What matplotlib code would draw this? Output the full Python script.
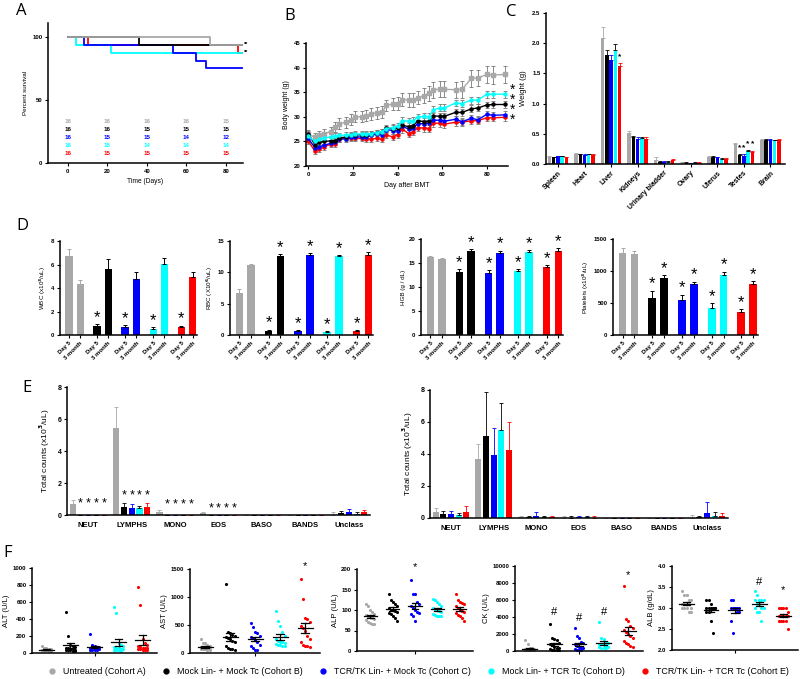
import numpy as np
import matplotlib
matplotlib.use("Agg")
import matplotlib.pyplot as plt
from matplotlib.lines import Line2D

plt.rcParams['font.family'] = ['Liberation Sans', 'DejaVu Sans']
plt.rcParams['font.weight'] = 'bold'

GREY = '#a8a8a8'
BLACK = '#000000'
BLUE = '#0000ff'
CYAN = '#00ffff'
RED = '#ff0000'
COLORS = [GREY, BLACK, BLUE, CYAN, RED]
COHORTS = ["Untreated (Cohort A)", "Mock Lin- + Mock Tc (Cohort B)",
           "TCR/TK Lin- + Mock Tc (Cohort C)", "Mock Lin- + TCR Tc (Cohort D)",
           "TCR/TK Lin- + TCR Tc (Cohort E)"]

# ---- A: survival ----
surv_times = [[0, 72, 88], [0, 36, 88], [0, 8, 53, 65, 70, 88], [0, 4, 22, 88], [0, 10, 86, 88]]
surv_vals = [[100, 93.75, 93.75], [100, 93.75, 93.75], [100, 93.75, 87.5, 81.25, 75, 75],
             [100, 93.75, 87.5, 87.5], [100, 93.75, 87.5, 87.5]]
risk_days = [0, 20, 40, 60, 80]
at_risk = [[16, 16, 16, 16, 15], [16, 16, 15, 15, 15], [16, 15, 15, 14, 12],
           [16, 15, 14, 14, 14], [16, 15, 15, 15, 15]]

# ---- B: body weight ----
bw_days = [0, 3, 5, 7, 10, 12, 14, 17, 19, 21, 24, 26, 28, 31, 33, 35, 38, 40, 42, 45,
           47, 49, 52, 54, 56, 59, 61, 66, 69, 73, 76, 80, 83, 88]
bw_grey = [26.5, 25.8, 26.2, 26.5, 27.0, 27.9, 28.6, 28.9, 29.4, 30.0, 30.0, 30.2, 30.6, 30.8,
           30.9, 32.3, 32.6, 32.7, 33.5, 33.4, 33.4, 33.9, 34.3, 34.8, 35.5, 35.6, 35.6, 35.5,
           35.6, 37.8, 37.9, 38.6, 38.5, 38.6]
bw_black = [26.6, 24.3, 24.8, 25.0, 25.1, 25.1, 25.7, 25.9, 26.2, 26.4, 26.3, 26.4, 26.6, 26.7,
            26.9, 27.7, 27.6, 27.7, 28.3, 28.0, 28.2, 29.2, 29.0, 29.1, 30.2, 30.1, 30.1, 30.9,
            30.9, 31.6, 31.8, 32.4, 32.5, 32.5]
bw_blue = [25.6, 23.7, 23.9, 24.2, 24.6, 24.9, 25.5, 25.5, 25.8, 25.9, 25.9, 25.9, 26.2, 26.5,
           26.4, 27.4, 27.2, 27.2, 28.1, 27.5, 27.7, 28.6, 28.6, 28.7, 29.3, 29.3, 29.1, 29.5,
           29.0, 29.7, 29.4, 30.5, 30.3, 30.4]
bw_cyan = [26.0, 25.0, 25.4, 25.7, 25.9, 26.1, 26.2, 26.3, 26.4, 26.5, 26.5, 26.5, 26.6, 26.8,
           27.0, 27.6, 27.8, 28.1, 29.2, 29.1, 29.2, 29.9, 30.1, 30.0, 31.4, 31.8, 31.8, 32.8,
           32.7, 33.4, 33.4, 34.6, 34.6, 34.6]
bw_red = [25.1, 23.0, 23.4, 23.9, 24.4, 24.5, 25.5, 25.6, 25.6, 25.6, 25.6, 25.5, 25.5, 25.6,
          25.4, 26.3, 25.9, 26.4, 27.5, 26.6, 26.9, 27.8, 27.7, 27.6, 28.7, 28.7, 28.5, 28.9,
          28.9, 29.2, 29.2, 29.8, 29.8, 29.9]
bw_err_grey = [0.8, 0.9, 0.9, 1.0, 1.0, 1.0, 1.1, 1.1, 1.1, 1.1, 1.1, 1.1, 1.2, 1.2, 1.2, 1.2,
               1.3, 1.3, 1.4, 1.4, 1.4, 1.4, 1.5, 1.5, 1.6, 1.6, 1.6, 1.6, 1.7, 1.7, 1.7, 1.8,
               1.8, 1.8]
bw_err_col = [0.6, 0.6, 0.6, 0.6, 0.6, 0.6, 0.6, 0.6, 0.6, 0.6, 0.6, 0.6, 0.6, 0.6, 0.6, 0.6,
              0.7, 0.7, 0.7, 0.7, 0.7, 0.7, 0.7, 0.7, 0.7, 0.7, 0.7, 0.7, 0.7, 0.7, 0.7, 0.7,
              0.7, 0.7]

# ---- C: organ weights ----
organs = ["Spleen", "Heart", "Liver", "Kidneys", "Urinary bladder", "Ovary", "Uterus", "Testes", "Brain"]
organ_w = [[0.12, 0.17, 2.09, 0.52, 0.07, 0.03, 0.12, 0.33, 0.40],
           [0.11, 0.16, 1.80, 0.44, 0.04, 0.02, 0.12, 0.15, 0.40],
           [0.13, 0.15, 1.73, 0.42, 0.04, 0.01, 0.11, 0.14, 0.40],
           [0.13, 0.16, 1.89, 0.43, 0.04, 0.02, 0.09, 0.21, 0.39],
           [0.11, 0.15, 1.63, 0.42, 0.06, 0.02, 0.09, 0.20, 0.40]]
organ_err = [[0.01, 0.01, 0.17, 0.03, 0.05, 0.01, 0.02, 0.02, 0.01],
             [0.01, 0.01, 0.08, 0.02, 0.01, 0.01, 0.02, 0.02, 0.01],
             [0.01, 0.01, 0.07, 0.02, 0.01, 0.01, 0.01, 0.02, 0.01],
             [0.01, 0.01, 0.09, 0.02, 0.01, 0.01, 0.01, 0.02, 0.01],
             [0.01, 0.01, 0.05, 0.02, 0.02, 0.01, 0.01, 0.02, 0.01]]

# ---- D: CBC ----
cbc_ticks = ["Day 5", "3 month"]
cbc_labels = ["WBC (x10$^3$/uL)", "RBC (X10$^6$/uL)", "HGB (g / dL)", "Platelets (x10$^3$/uL)"]
cbc_ylim = [8, 15, 20, 1500]
cbc_yticks = [[0, 2, 4, 6, 8], [0, 5, 10, 15], [0, 5, 10, 15, 20], [0, 500, 1000, 1500]]
cbc_vals = [
    [[6.7, 4.35], [0.75, 5.65], [0.72, 4.75], [0.55, 6.05], [0.65, 4.9]],
    [[6.7, 11.2], [0.7, 12.6], [0.7, 12.7], [0.5, 12.6], [0.6, 12.8]],
    [[16.2, 15.9], [13.1, 17.5], [12.9, 17.1], [13.4, 17.3], [14.2, 17.6]],
    [[1275, 1265], [585, 895], [540, 790], [420, 940], [365, 795]],
]
cbc_err = [
    [[0.65, 0.3], [0.15, 0.8], [0.1, 0.65], [0.1, 0.5], [0.15, 0.5]],
    [[0.6, 0.15], [0.15, 0.3], [0.1, 0.35], [0.1, 0.2], [0.15, 0.4]],
    [[0.2, 0.15], [0.6, 0.4], [0.6, 0.5], [0.3, 0.4], [0.4, 0.5]],
    [[90, 40], [110, 40], [90, 45], [75, 50], [35, 45]],
]
cbc_star_both = [False, True, True, True]

# ---- E: differential counts ----
diff_cats = ["NEUT", "LYMPHS", "MONO", "EOS", "BASO", "BANDS", "Unclass"]
diff_d5 = [[0.7, 5.45, 0.2, 0.1, 0, 0, 0.02],
           [0, 0.48, 0.02, 0, 0, 0, 0.15],
           [0, 0.45, 0.02, 0, 0, 0, 0.2],
           [0, 0.42, 0.02, 0, 0, 0, 0.08],
           [0, 0.48, 0.02, 0, 0, 0, 0.18]]
diff_d5_err = [[0.25, 1.3, 0.1, 0.1, 0, 0, 0.18],
               [0, 0.25, 0, 0, 0, 0, 0.1],
               [0, 0.25, 0, 0, 0, 0, 0.2],
               [0, 0.15, 0, 0, 0, 0, 0.1],
               [0, 0.25, 0, 0, 0, 0, 0.15]]
diff_d5_star_y = [0.72, 1.2, 0.65, 0.38]
diff_3m = [[0.4, 3.7, 0.05, 0.03, 0, 0, 0.02],
           [0.27, 5.1, 0.07, 0.03, 0, 0, 0.05],
           [0.22, 3.95, 0.15, 0.05, 0, 0, 0.3],
           [0.2, 5.5, 0.08, 0.05, 0, 0, 0.12],
           [0.37, 4.25, 0.07, 0.03, 0, 0, 0.1]]
diff_3m_err = [[0.25, 0.95, 0.08, 0.1, 0, 0, 0.15],
               [0.15, 2.8, 0.08, 0.1, 0, 0, 0.1],
               [0.2, 1.65, 0.2, 0.1, 0, 0, 0.7],
               [0.12, 1.7, 0.07, 0.08, 0, 0, 0.25],
               [0.4, 1.75, 0.05, 0.08, 0, 0, 0.2]]

# ---- F: serum chemistry ----
chem_labels = ["ALT (U/L)", "AST (U/L)", "ALP (U/L)", "CK (U/L)", "ALB (g/dL)"]
chem_ylim = [(0, 1000), (0, 1500), (0, 200), (0, 10000), (2.0, 4.0)]
chem_yticks = [[0, 200, 400, 600, 800, 1000], [0, 500, 1000, 1500], [0, 50, 100, 150, 200],
               [0, 2000, 4000, 6000, 8000, 10000], [2.0, 2.5, 3.0, 3.5, 4.0]]
alt = [[20, 25, 30, 30, 35, 35, 40, 40, 45, 50, 55, 60, 80, 30, 40],
       [480, 200, 100, 80, 70, 60, 50, 40, 30, 20, 30, 40, 60, 20, 50],
       [220, 100, 80, 70, 60, 50, 50, 40, 40, 35, 30, 60, 70, 50],
       [540, 470, 120, 100, 80, 70, 60, 50, 40, 30, 20, 50, 60, 40],
       [780, 560, 160, 120, 100, 80, 60, 50, 40, 30, 50, 60, 70, 40, 60]]
ast = [[250, 180, 150, 120, 100, 90, 80, 80, 70, 60, 60, 70, 90, 100, 170],
       [1240, 380, 350, 320, 300, 280, 260, 250, 220, 200, 120, 90, 80, 60, 70],
       [540, 460, 370, 350, 300, 280, 260, 240, 200, 150, 120, 90, 60, 60],
       [750, 580, 480, 380, 300, 250, 220, 200, 180, 160, 150, 140, 130, 120, 200],
       [1330, 970, 620, 600, 550, 480, 450, 400, 300, 250, 200, 150, 120, 130, 110]]
alp = [[115, 110, 100, 95, 90, 88, 85, 82, 80, 78, 75, 70, 66, 65, 68],
       [138, 125, 120, 115, 110, 105, 100, 100, 98, 95, 92, 90, 85, 80, 72],
       [173, 140, 138, 120, 115, 110, 105, 100, 95, 92, 90, 85, 72],
       [128, 125, 120, 115, 110, 105, 100, 100, 98, 95, 90, 88, 86, 85, 85],
       [138, 125, 120, 118, 115, 110, 105, 100, 98, 95, 92, 88, 85, 80, 72]]
ck = [[1300, 800, 400, 300, 250, 200, 150, 100, 100, 80, 50, 50, 100, 150, 200],
      [3200, 1500, 1400, 1300, 1000, 800, 700, 500, 400, 300, 200, 150, 100, 100, 50],
      [2700, 1800, 1500, 1100, 900, 800, 600, 500, 400, 300, 200, 150, 100, 100],
      [3400, 1500, 1400, 1000, 900, 800, 800, 700, 600, 500, 500, 400, 400, 300],
      [7600, 3800, 3500, 3000, 2700, 2500, 2200, 2000, 1800, 1500, 1200, 1000, 800, 600, 500]]
alb = [[3.4, 3.3, 3.3, 3.2, 3.2, 3.1, 3.1, 3.1, 3.0, 3.0, 3.0, 2.9, 2.9, 3.0, 3.1],
       [3.2, 3.2, 3.1, 3.0, 3.0, 3.0, 3.0, 3.0, 3.0, 3.0, 2.9, 2.9, 2.7, 2.4],
       [3.2, 3.2, 3.0, 3.0, 3.0, 3.0, 3.0, 3.0, 2.9, 2.9, 2.7, 2.4],
       [3.4, 3.3, 3.2, 3.2, 3.2, 3.1, 3.1, 3.0, 3.0, 3.0, 2.9, 2.9, 2.7, 3.2],
       [3.0, 3.0, 3.0, 3.0, 2.9, 2.8, 2.8, 2.8, 2.8, 2.7, 2.7, 2.7, 2.7, 2.5, 2.8]]
chem_data = [alt, ast, alp, ck, alb]
# (group, symbol, y) marks above the groups
chem_marks = [[], [(4, "*", 1550)], [(2, "*", 205)],
              [(1, "#", 4600), (2, "#", 3900), (3, "#", 4600), (4, "*", 8900)],
              [(3, "#", 3.62), (4, "*", 3.43)]]

W, H = 800, 679
fig = plt.figure(figsize=(8, 6.79), dpi=100)


def px_axes(l, t, r, b):
    return fig.add_axes([l / W, 1 - b / H, (r - l) / W, (b - t) / H])


def style(ax, fs=4.3):
    for s in ['top', 'right']:
        ax.spines[s].set_visible(False)
    for s in ['left', 'bottom']:
        ax.spines[s].set_linewidth(1.1)
    ax.tick_params(labelsize=fs, width=0.8, length=2.5, pad=1.5)


def letter(x, y, s):
    fig.text(x / W, 1 - y / H, s, fontsize=12, family='Open Sans', weight='normal',
             va='center', ha='left')


# ---- A ----
ax = px_axes(48, 23, 243, 163)
for i in [4, 3, 2, 1, 0]:
    ax.step(surv_times[i], surv_vals[i], where='post', color=COLORS[i], lw=1.3)
for i in range(5):
    for d, n in zip(risk_days, at_risk[i]):
        ax.text(d, 33 - 6.3 * i, str(n), color=COLORS[i], fontsize=4.5, ha='center', va='center')
ax.text(89, 93.75, "**", fontsize=4, va='center', ha='left')
ax.text(89, 87.5, "**", fontsize=4, va='center', ha='left')
ax.set_xlim(-10, 88.6)
ax.set_ylim(0, 111)
ax.set_yticks([0, 50, 100])
ax.set_xticks([0, 20, 40, 60, 80])
ax.set_ylabel("Percent survival", fontsize=4.5, labelpad=3)
ax.set_xlabel("Time (Days)", fontsize=4.8, labelpad=3)
style(ax)
letter(16, 11, "A")

# ---- B ----
ax = px_axes(306, 43, 508, 166)
bw_series = [bw_grey, bw_black, bw_blue, bw_cyan, bw_red]
for i in [0, 4, 2, 1, 3]:
    err = bw_err_grey if i == 0 else bw_err_col
    ax.errorbar(bw_days, bw_series[i], yerr=err, color=COLORS[i], ecolor='#777777',
                elinewidth=0.6, capsize=1.5, capthick=0.6, lw=1.0,
                marker='s' if i == 0 else 'o', ms=2.2)
# one column of four significance stars at the right of the curves
ax.text(90.5, 32.4, "*\n*\n*\n*", fontsize=10, weight='normal', ha='left', va='center',
        linespacing=0.62, clip_on=False)
ax.set_xlim(-1, 89.5)
ax.set_ylim(20, 45)
ax.set_xticks([0, 20, 40, 60, 80])
ax.set_yticks([20, 25, 30, 35, 40, 45])
ax.set_ylabel("Body weight (g)", fontsize=5, labelpad=3, weight='normal')
ax.set_xlabel("Day after BMT", fontsize=5, labelpad=4, weight='normal')
style(ax)
letter(284, 16, "B")

# ---- C ----
ax = px_axes(546, 13, 785, 164)
xc = np.arange(len(organs))
for j in range(5):
    xs = xc + (j - 2) * 0.16
    ax.bar(xs, organ_w[j], width=0.13, color=COLORS[j])
    ax.errorbar(xs, organ_w[j], yerr=[np.zeros(len(organs)), organ_err[j]], fmt='none',
                ecolor=COLORS[j] if j != 3 else BLACK, elinewidth=0.6, capsize=1.2, capthick=0.6)
ax.text(2 + 2 * 0.16, 1.77, "*", fontsize=6, ha='center', va='center')
for j, yy in zip([1, 2, 3, 4], [0.27, 0.27, 0.33, 0.33]):
    ax.text(7 + (j - 2) * 0.16, yy, "*", fontsize=6, ha='center', va='center')
ax.set_xlim(-0.45, 8.55)
ax.set_ylim(0, 2.5)
ax.set_yticks([0, 0.5, 1.0, 1.5, 2.0, 2.5])
ax.set_yticklabels(["0.0", "0.5", "1.0", "1.5", "2.0", "2.5"])
ax.set_xticks(xc)
ax.set_xticklabels(organs, rotation=45, ha='right', rotation_mode='anchor', fontsize=5)
ax.set_ylabel("Weight (g)", fontsize=5.5, labelpad=4)
style(ax)
ax.tick_params(axis='x', labelsize=5)
letter(506, 12, "C")

# ---- D ----
d_pos = [(60, 241, 197, 335), (230, 241, 373, 335), (421, 239, 563, 335), (613, 239, 758, 335)]
for k in range(4):
    ax = px_axes(*d_pos[k])
    ymax = cbc_ylim[k]
    xt = []
    for g in range(5):
        for j in range(2):
            x = g * 2.5 + j
            xt.append(x)
            v = cbc_vals[k][g][j]
            e = cbc_err[k][g][j]
            ax.bar(x, v, width=0.65, color=COLORS[g])
            ax.errorbar(x, v, yerr=[[0], [e]], fmt='none', ecolor=BLACK if g != 0 else GREY,
                        elinewidth=0.7, capsize=1.5, capthick=0.7)
            if g > 0 and (j == 0 or cbc_star_both[k]):
                ax.text(x, v + e + 0.07 * ymax, "*", fontsize=12, weight='normal',
                        ha='center', va='center', clip_on=False)
    ax.set_xlim(-0.8, 11.4)
    ax.set_ylim(0, ymax)
    ax.set_yticks(cbc_yticks[k])
    ax.set_xticks(xt)
    ax.set_xticklabels(cbc_ticks * 5, rotation=45, ha='right', rotation_mode='anchor')
    ax.set_ylabel(cbc_labels[k], fontsize=4.5, labelpad=2, weight='normal')
    style(ax)
letter(16, 226, "D")

# ---- E ----
e_pos = [(67, 387, 370, 515), (430, 390, 728, 518)]
for k, (vals, errs) in enumerate([(diff_d5, diff_d5_err), (diff_3m, diff_3m_err)]):
    ax = px_axes(*e_pos[k])
    xc = np.arange(len(diff_cats))
    for j in range(5):
        xs = xc + (j - 2) * 0.18
        ax.bar(xs, vals[j], width=0.14, color=COLORS[j])
        ax.errorbar(xs, vals[j], yerr=[np.zeros(len(xc)), errs[j]], fmt='none',
                    ecolor=COLORS[j] if j != 3 else BLACK, elinewidth=0.6,
                    capsize=1.2, capthick=0.6)
    if k == 0:
        for c, yy in enumerate(diff_d5_star_y):
            for j in range(1, 5):
                ax.text(c + (j - 2) * 0.18, yy, "*", fontsize=9, weight='normal',
                        ha='center', va='center')
    ax.set_xlim(-0.49, 6.49)
    ax.set_ylim(0, 8)
    ax.set_yticks([0, 2, 4, 6, 8])
    ax.set_xticks(xc)
    ax.set_xticklabels(diff_cats)
    ax.set_ylabel("Total counts (x10$^3$/uL)", fontsize=6, labelpad=4)
    style(ax, fs=5)
    ax.tick_params(axis='x', length=0, pad=5)
    for lab in ax.get_xticklabels():
        lab.set_fontsize(5.5)
letter(22, 388, "E")

# ---- F ----
f_pos = [(32, 568, 157, 653), (190, 569, 320, 653), (357, 569, 473, 651),
         (515, 566, 643, 651), (672, 566, 798, 650)]
for k in range(5):
    ax = px_axes(*f_pos[k])
    for g in range(5):
        y = np.sort(np.array(chem_data[k][g], dtype=float))[::-1]
        n = len(y)
        offs = ((np.arange(n) % 5) - 2) * 0.09
        ax.scatter(g + offs, y, s=5, color=COLORS[g], zorder=2, linewidths=0)
        m = y.mean()
        sem = y.std(ddof=1) / np.sqrt(n)
        ax.plot([g - 0.3, g + 0.3], [m, m], color=BLACK, lw=0.9, zorder=3)
        ax.plot([g, g], [m - sem, m + sem], color=BLACK, lw=0.9, zorder=3)
        for yy in (m - sem, m + sem):
            ax.plot([g - 0.15, g + 0.15], [yy, yy], color=BLACK, lw=0.9, zorder=3)
    for g, sym, yy in chem_marks[k]:
        ax.text(g, yy, sym, fontsize=8, weight='normal', ha='center', va='center', clip_on=False)
    ax.set_xlim(-0.6, 4.6)
    ax.set_ylim(*chem_ylim[k])
    ax.set_yticks(chem_yticks[k])
    if k == 4:
        ax.set_yticklabels([f"{t:.1f}" for t in chem_yticks[k]])
    ax.set_xticks([2])
    ax.set_xticklabels([""])
    ax.set_ylabel(chem_labels[k], fontsize=5.5, labelpad=2)
    style(ax, fs=4.3)
letter(3, 553, "F")

handles = [Line2D([], [], ls='none', marker='o', ms=3.5, color=c) for c in COLORS]
fig.legend(handles, COHORTS, loc='center', bbox_to_anchor=(0.52, 1 - 672 / H), ncol=5,
           frameon=False, prop={'family': 'Liberation Sans', 'weight': 'normal', 'size': 6.4},
           handletextpad=0.3, columnspacing=1.2, borderpad=0.1)

fig.savefig("out.png", dpi=100)
